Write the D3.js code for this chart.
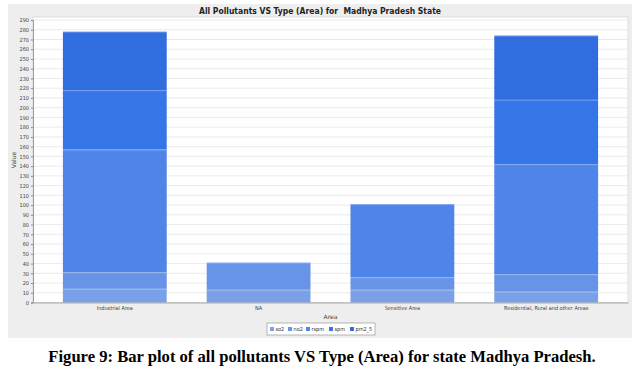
<!DOCTYPE html>
<html>
<head>
<meta charset="utf-8">
<script src="https://cdn.jsdelivr.net/npm/d3@7"></script>
<style>
  body { margin: 0; background: #fff; }
  svg { display: block; }
</style>
</head>
<body>
<svg id="svg"></svg>
<script>
// data
const areas = ["Industrial Area", "NA", "Sensitive Area", "Residential, Rural and other Areas"];
const pollutants = ["so2", "no2", "rspm", "spm", "pm2_5"];
const so2 = [14, 13, 13, 11];
const no2 = [17, 28, 13, 18];
const rspm = [126, 0, 75, 113];
const spm = [61, 0, 0, 66];
const pm2_5 = [60, 0, 0, 66];
const yTicks = d3.range(0, 300, 10);
const colors = ["#7ba0ea", "#6894e7", "#4f84e8", "#3575e8", "#306dde"];

const W = 641, H = 377;
const svg = d3.select("#svg").attr("width", W).attr("height", H);

// grey chart panel
svg.append("rect").attr("x", 8).attr("y", 4).attr("width", 624).attr("height", 334)
  .attr("fill", "#eeeeee");

const plot = {left: 33, top: 17, right: 628, bottom: 302.5};

const rows = areas.map((a, i) => ({area: a, so2: so2[i], no2: no2[i], rspm: rspm[i], spm: spm[i], pm2_5: pm2_5[i]}));
const stacked = d3.stack().keys(pollutants)(rows);

const x = d3.scaleBand().domain(areas)
  .range([plot.left, plot.right])
  .paddingInner(0.278).paddingOuter(0.208);

const y = d3.scaleLinear().domain([0, 290]).range([plot.bottom, 20]);

svg.append("rect").attr("x", plot.left).attr("y", plot.top)
  .attr("width", plot.right - plot.left).attr("height", plot.bottom - plot.top)
  .attr("fill", "#fff").attr("stroke", "#d6d6d6").attr("stroke-width", 0.8);

// gridlines
svg.append("g").selectAll("line").data(yTicks.filter(d => d > 0)).join("line")
  .attr("x1", plot.left).attr("x2", plot.right)
  .attr("y1", d => y(d)).attr("y2", d => y(d))
  .attr("stroke", "#e6e6e6").attr("stroke-width", 0.8);

// bars
svg.append("g").selectAll("g").data(stacked).join("g")
  .attr("fill", (d, i) => colors[i])
  .selectAll("rect").data(d => d).join("rect")
  .attr("x", d => x(d.data.area))
  .attr("width", x.bandwidth())
  .attr("y", d => y(d[1]))
  .attr("height", d => y(d[0]) - y(d[1]));

// separator lines between segments
svg.append("g").selectAll("g").data(stacked).join("g")
  .selectAll("line").data(d => d.filter(e => e[1] > e[0])).join("line")
  .attr("x1", d => x(d.data.area)).attr("x2", d => x(d.data.area) + x.bandwidth())
  .attr("y1", d => y(d[1]) + 0.5).attr("y2", d => y(d[1]) + 0.5)
  .attr("stroke", "#ffffff").attr("stroke-opacity", 0.25).attr("stroke-width", 1);

// y axis
const yAxis = svg.append("g").attr("transform", `translate(${plot.left},0)`)
  .call(d3.axisLeft(y).tickValues(yTicks).tickSize(2).tickPadding(2));
yAxis.select(".domain").attr("stroke", "#888").attr("stroke-width", 0.8);
yAxis.selectAll(".tick line").attr("stroke", "#888");
yAxis.selectAll("text").attr("font-family", "DejaVu Sans Condensed, DejaVu Sans, sans-serif")
  .attr("font-size", 5.5).attr("fill", "#444");

// x axis
const xAxis = svg.append("g").attr("transform", `translate(0,${plot.bottom})`)
  .call(d3.axisBottom(x).tickSize(0).tickPadding(4));
xAxis.select(".domain").attr("stroke", "#999").attr("stroke-width", 0.8);
xAxis.selectAll("text").attr("font-family", "DejaVu Sans Condensed, DejaVu Sans, sans-serif")
  .attr("font-size", 5.5).attr("fill", "#444");

// axis titles
svg.append("text").attr("x", (plot.left + plot.right) / 2).attr("y", 319)
  .attr("text-anchor", "middle").attr("font-family", "DejaVu Sans, sans-serif")
  .attr("font-size", 6).attr("fill", "#444").text("Area");
svg.append("text").attr("transform", "translate(16,160) rotate(-90)")
  .attr("text-anchor", "middle").attr("font-family", "DejaVu Sans, sans-serif")
  .attr("font-size", 6).attr("fill", "#444").text("Value");

// chart title
svg.append("text").attr("x", 320).attr("y", 13.5)
  .attr("text-anchor", "middle").attr("font-family", "DejaVu Sans Condensed, DejaVu Sans, sans-serif")
  .attr("font-weight", "bold").attr("font-size", 8.5).attr("fill", "#222")
  .style("white-space", "pre")
  .text("All Pollutants VS Type (Area) for  Madhya Pradesh State");

// legend
const legend = svg.append("g");
const lgX = 267, lgY = 323;
legend.append("rect").attr("x", lgX).attr("y", lgY).attr("width", 108).attr("height", 12)
  .attr("fill", "#fff").attr("stroke", "#999").attr("stroke-width", 0.7);
const lgOffsets = [3, 21, 39, 62, 83];
pollutants.forEach((p, i) => {
  legend.append("rect").attr("x", lgX + lgOffsets[i]).attr("y", lgY + 4)
    .attr("width", 4).attr("height", 4).attr("fill", colors[i]);
  legend.append("text").attr("x", lgX + lgOffsets[i] + 5.5).attr("y", lgY + 8.3)
    .attr("font-family", "DejaVu Sans Condensed, DejaVu Sans, sans-serif")
    .attr("font-size", 5.5).attr("fill", "#333").text(p);
});

// figure caption
svg.append("text").attr("x", 322).attr("y", 362)
  .attr("text-anchor", "middle").attr("font-family", "Liberation Serif, Times New Roman, serif")
  .attr("font-weight", "bold").attr("font-size", 16.6).attr("fill", "#000")
  .text("Figure 9: Bar plot of all pollutants VS Type (Area) for state Madhya Pradesh.");
</script>
</body>
</html>
